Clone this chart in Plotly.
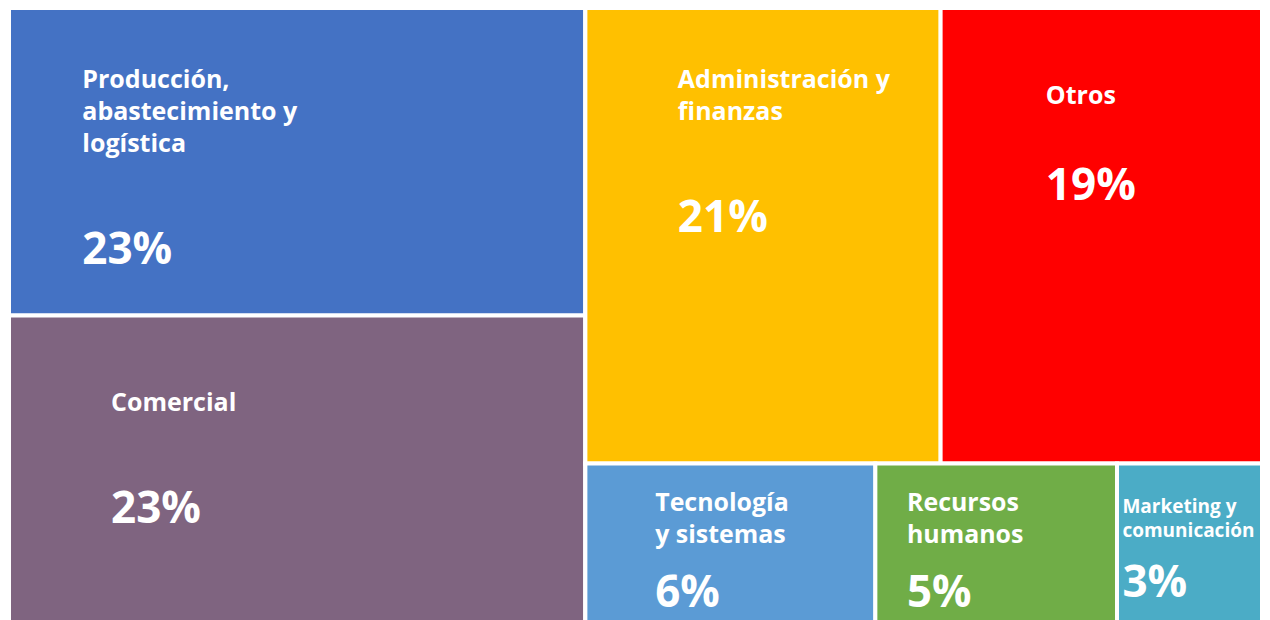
import plotly.graph_objects as go

# Distribución por área (%)
areas = ["Producción, abastecimiento y logística", "Comercial",
         "Administración y finanzas", "Otros",
         "Tecnología y sistemas", "Recursos humanos", "Marketing y comunicación"]
etiquetas = ["Producción,<br>abastecimiento y<br>logística", "Comercial",
             "Administración y<br>finanzas", "Otros",
             "Tecnología<br>y sistemas", "Recursos<br>humanos", "Marketing y<br>comunicación"]
porcentajes = [23, 23, 21, 19, 6, 5, 3]
grupos = ["izq", "izq", "der_sup", "der_sup", "der_inf", "der_inf", "der_inf"]
colores = ["#4472C4", "#7F6480", "#FFC000", "#FF0000", "#5B9BD5", "#70AD47", "#4BACC6"]

# grupos intermedios para que el reparto quede como en el original
padres_grupo = {"izq": "total", "der": "total", "der_sup": "der", "der_inf": "der"}

# colocación del texto en cada celda (en renglones de la fuente base)
sangria = [22, 31, 28, 32, 21, 9, 1]
fila_etiqueta = [4, 5, 4, 5, 2, 2, 3]
fila_pct = [15, 12, 13, 11, 8, 8, 10]
tam_base = [12.3, 12.3, 12.3, 12.3, 12.3, 12.3, 9.23]
tam_etiqueta = [25, 25, 25, 25, 25, 25, 19]
tam_pct = 44


def suma(g):
    hijos = [k for k, p in padres_grupo.items() if p == g]
    return sum(v for v, gr in zip(porcentajes, grupos) if gr == g) + sum(suma(h) for h in hijos)


def texto(etq, pct, sg, fe, fp, fs):
    ind = "&nbsp;" * sg
    lineas = ["&nbsp;"] * (fp + 1)
    for i, l in enumerate(etq.split("<br>")):
        lineas[fe + 2 * i] = f"{ind}<span style='font-size:{fs}px'>{l}</span>"
    lineas[fp] = f"{ind}<span style='font-size:{tam_pct}px'>{pct}%</span>"
    return "<br>".join(lineas)


n_grupos = 1 + len(padres_grupo)
ids = ["total"] + list(padres_grupo) + areas
parents = [""] + list(padres_grupo.values()) + grupos
values = [suma("total")] + [suma(g) for g in padres_grupo] + porcentajes
colors = ["white"] * n_grupos + colores
texts = [""] * n_grupos + [texto(*a) for a in zip(etiquetas, porcentajes, sangria,
                                                   fila_etiqueta, fila_pct, tam_etiqueta)]
sizes = [12.3] * n_grupos + tam_base

fig = go.Figure(go.Treemap(
    ids=ids,
    labels=ids,
    parents=parents,
    values=values,
    branchvalues="total",
    sort=False,
    text=texts,
    textinfo="text",
    textposition="top left",
    textfont=dict(family="Open Sans, Lato, sans-serif", size=sizes, color="white", weight="bold"),
    marker=dict(colors=colors, line=dict(width=4, color="white"),
                pad=dict(t=0, l=0, r=0, b=0)),
    tiling=dict(packing="slice-dice", pad=0),
    pathbar=dict(visible=False),
    hoverinfo="skip",
))

fig.update_layout(
    width=1254, height=615,
    margin=dict(l=1, r=0, t=0, b=0),
    paper_bgcolor="white",
)

fig.write_html("out.html")
